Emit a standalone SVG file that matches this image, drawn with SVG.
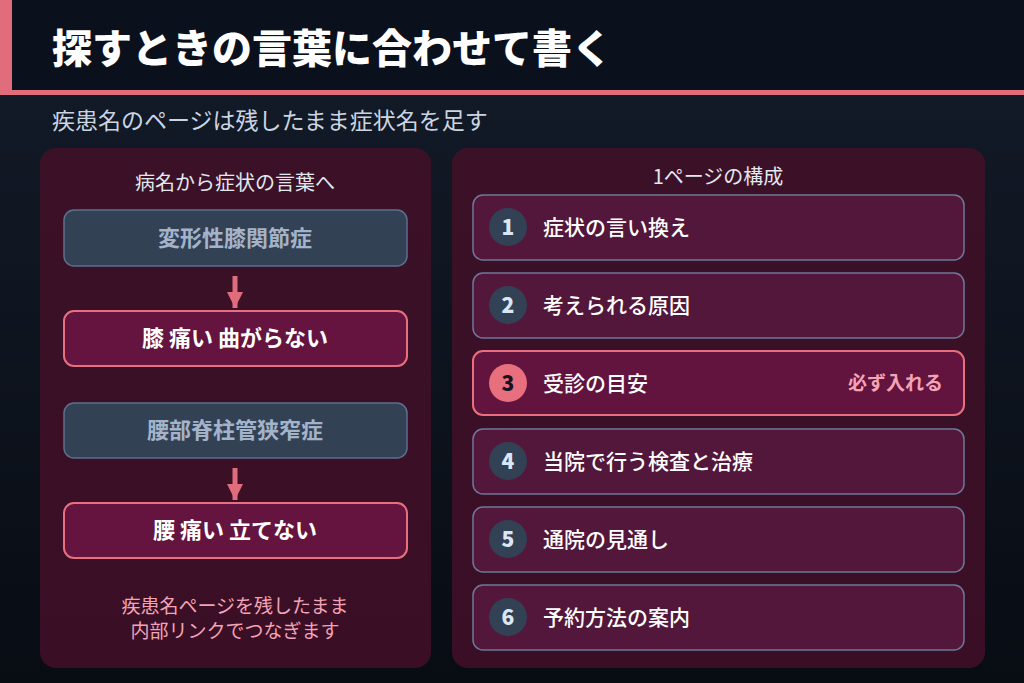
<svg xmlns="http://www.w3.org/2000/svg" width="1024" height="683" viewBox="0 0 1024 683">
<defs>
<linearGradient id="bg" x1="0" y1="0" x2="0" y2="1">
<stop offset="0" stop-color="#141c2a"/>
<stop offset="1" stop-color="#080c13"/>
</linearGradient>
<linearGradient id="panel" x1="0" y1="0" x2="0" y2="1">
<stop offset="0" stop-color="#3b1128"/>
<stop offset="1" stop-color="#3a0f25"/>
</linearGradient>
<marker id="ah" viewBox="0 0 10 10" refX="10" refY="5" markerWidth="3.2" markerHeight="3.2" markerUnits="strokeWidth" orient="auto">
<path d="M0,0 L10,5 L0,10 Z" fill="#e06c7c"/>
</marker>
<style>
text{font-family:"Noto Sans CJK JP","Noto Sans",sans-serif}
.title{font-size:40px;font-weight:900;fill:#ffffff}
.sub{font-size:23px;fill:#cbd5e1}
.ptitle{font-size:20px;fill:#e2e8f0;text-anchor:middle}
.dis rect{fill:#334155;stroke:#5d6f8e;stroke-width:1.5}
.dis text{font-size:22px;font-weight:700;fill:#a3b3c9;text-anchor:middle}
.sym rect{fill:#64143f;stroke:#e8707e;stroke-width:2}
.sym text{font-size:22px;font-weight:700;fill:#ffffff;text-anchor:middle}
.note{font-size:19px;fill:#f4a3b5;text-anchor:middle}
.item rect{fill:#53173b;stroke:#6e7899;stroke-width:1.5}
.item circle{fill:#334155}
.item .n{font-size:21px;font-weight:900;fill:#dbe6f5;text-anchor:middle}
.item .t{font-size:21px;font-weight:500;fill:#ffffff}
.hi rect{fill:#62143f;stroke:#e8707e;stroke-width:2}
.hi circle{fill:#e8707e}
.hi .n{fill:#1a1222}
.tag{font-size:19px;font-weight:700;fill:#f4a3b5;text-anchor:end}
.conn line{stroke:#e06c7c;stroke-width:5;marker-end:url(#ah)}
</style>
</defs>
<rect width="1024" height="683" fill="url(#bg)"/>
<g id="header">
<rect x="0" y="0" width="1024" height="91" fill="#0b111c"/>
<rect x="0" y="0" width="12" height="95" fill="#e06c7c"/>
<rect x="0" y="90" width="1024" height="5" fill="#e06c7c"/>
<text class="title" x="52" y="63">探すときの言葉に合わせて書く</text>
</g>
<text id="subtitle" class="sub" x="52" y="129">疾患名のページは残したまま症状名を足す</text>

<g id="left-panel">
<rect x="40" y="148" width="391" height="520" rx="16" fill="url(#panel)"/>
<text class="ptitle" x="235" y="190">病名から症状の言葉へ</text>
</g>
<g id="d1" class="dis"><rect x="64" y="210" width="343" height="56" rx="10"/><text x="235" y="246">変形性膝関節症</text></g>
<g id="s1" class="sym"><rect x="64" y="311" width="343" height="55" rx="10"/><text x="235" y="346">膝 痛い 曲がらない</text></g>
<g id="d2" class="dis"><rect x="64" y="403" width="343" height="55" rx="10"/><text x="235" y="438">腰部脊柱管狭窄症</text></g>
<g id="s2" class="sym"><rect x="64" y="503" width="343" height="55" rx="10"/><text x="235" y="538">腰 痛い 立てない</text></g>
<g id="note">
<text class="note" x="235" y="613">疾患名ページを残したまま</text>
<text class="note" x="235" y="638">内部リンクでつなぎます</text>
</g>
<g id="connectors" class="conn">
<line x1="235" y1="276" x2="235" y2="308"/>
<line x1="235" y1="468" x2="235" y2="500"/>
</g>

<g id="right-panel">
<rect x="452" y="148" width="533" height="520" rx="16" fill="url(#panel)"/>
<text class="ptitle" x="718" y="184">1ページの構成</text>
</g>
<g id="i1" class="item"><rect x="473" y="195" width="491" height="65" rx="10"/><circle cx="508" cy="227" r="19"/><text class="n" x="508" y="234.5">1</text><text class="t" x="543" y="235">症状の言い換え</text></g>
<g id="i2" class="item"><rect x="473" y="273" width="491" height="65" rx="10"/><circle cx="508" cy="305" r="19"/><text class="n" x="508" y="312.5">2</text><text class="t" x="543" y="313">考えられる原因</text></g>
<g id="i3" class="item hi"><rect x="473" y="351" width="491" height="64" rx="10"/><circle cx="508" cy="383" r="19"/><text class="n" x="508" y="390.5">3</text><text class="t" x="543" y="391">受診の目安</text><text class="tag" x="943" y="390">必ず入れる</text></g>
<g id="i4" class="item"><rect x="473" y="429" width="491" height="65" rx="10"/><circle cx="508" cy="461" r="19"/><text class="n" x="508" y="468.5">4</text><text class="t" x="543" y="469">当院で行う検査と治療</text></g>
<g id="i5" class="item"><rect x="473" y="507" width="491" height="65" rx="10"/><circle cx="508" cy="539" r="19"/><text class="n" x="508" y="546.5">5</text><text class="t" x="543" y="547">通院の見通し</text></g>
<g id="i6" class="item"><rect x="473" y="585" width="491" height="65" rx="10"/><circle cx="508" cy="617" r="19"/><text class="n" x="508" y="624.5">6</text><text class="t" x="543" y="625">予約方法の案内</text></g>
</svg>
